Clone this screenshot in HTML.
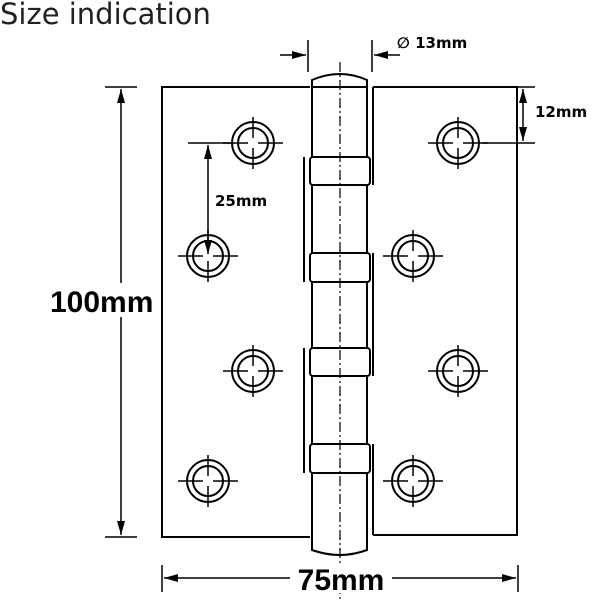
<!DOCTYPE html>
<html><head><meta charset="utf-8"><style>body{margin:0;background:#fff}svg{display:block}</style></head>
<body>
<svg width="600" height="600" viewBox="0 0 600 600" xmlns="http://www.w3.org/2000/svg" font-family="Liberation Sans, sans-serif">
<defs>
<g id="h">
<circle r="21" fill="none" stroke="#000" stroke-width="2"/>
<circle r="15" fill="none" stroke="#000" stroke-width="2"/>
<path d="M-30 0H-5M5 0H30M0 -26V-5M0 5V26" stroke="#000" stroke-width="1.5"/>
</g>
<marker id="a" viewBox="0 0 14 10" refX="14" refY="5" markerWidth="14" markerHeight="10" orient="auto-start-reverse" markerUnits="userSpaceOnUse"><path d="M0 1L14 5L0 9z" fill="#000"/></marker>
</defs>
<text x="0" y="24" font-size="29" fill="#222" font-family="DejaVu Sans, sans-serif">Size indication</text>
<g stroke="#000" stroke-width="2" fill="none">
<path d="M310 87H162V537H310"/>
<path d="M373 87H517V535H373"/>
<path d="M304 157V282M304 348V473"/>
<path d="M373 87V185M373 253V376M373 444V535"/>
<path d="M312 87V547M367 87V547"/>
<path d="M312 87V80Q340 68 367 80V87M312 87H367"/>
<path d="M312 547V550Q340 560 367 550V547"/>
<rect x="310" y="157" width="60" height="28" rx="3" fill="#fff"/>
<rect x="310" y="253" width="60" height="29" rx="3" fill="#fff"/>
<rect x="310" y="348" width="60" height="28" rx="3" fill="#fff"/>
<rect x="310" y="444" width="60" height="29" rx="3" fill="#fff"/>
</g>
<path d="M340 62V600" stroke="#000" stroke-width="1.2" stroke-dasharray="10 3 2 3"/>
<use href="#h" x="253" y="143"/><use href="#h" x="208" y="256"/><use href="#h" x="253" y="371"/><use href="#h" x="208" y="481"/>
<use href="#h" x="458" y="143"/><use href="#h" x="413" y="256"/><use href="#h" x="458" y="371"/><use href="#h" x="413" y="481"/>
<g stroke="#000" stroke-width="1.5" fill="none">
<path d="M105 87H137M105 537H137"/>
<path d="M121 89V535" marker-start="url(#a)" marker-end="url(#a)"/>
<path d="M162 565V592M518 565V592"/>
<path d="M164 578H516" marker-start="url(#a)" marker-end="url(#a)"/>
<path d="M308 40V72M372 40V72"/>
<path d="M280 55H306" marker-end="url(#a)"/>
<path d="M400 55H374" marker-end="url(#a)"/>
<path d="M515 87H535M482 143H535"/>
<path d="M523 89V141" marker-start="url(#a)" marker-end="url(#a)"/>
<path d="M188 143H232"/>
<path d="M208 145V254" marker-start="url(#a)" marker-end="url(#a)"/>
</g>
<rect x="48" y="283" width="110" height="34" fill="#fff"/>
<text x="50" y="312" font-size="30" font-weight="bold">100mm</text>
<rect x="290" y="563" width="102" height="30" fill="#fff"/>
<text x="341" y="590" font-size="30" font-weight="bold" text-anchor="middle">75mm</text>
<text x="397" y="48" font-size="15" font-weight="bold" font-family="DejaVu Sans, sans-serif">∅ 13mm</text>
<text x="535" y="117" font-size="15" font-weight="bold" font-family="DejaVu Sans, sans-serif">12mm</text>
<text x="215" y="206" font-size="15" font-weight="bold" font-family="DejaVu Sans, sans-serif">25mm</text>
</svg>
</body></html>
